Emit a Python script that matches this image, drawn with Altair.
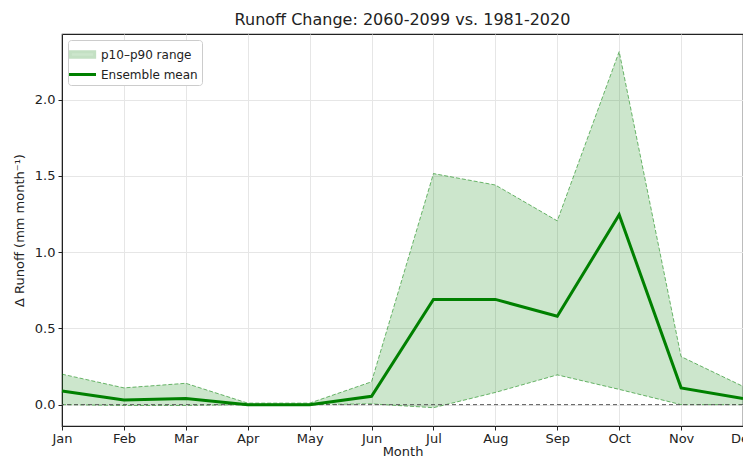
import altair as alt
import pandas as pd

months = ["Jan", "Feb", "Mar", "Apr", "May", "Jun", "Jul", "Aug", "Sep", "Oct", "Nov", "Dec"]
ens_mean = [0.09, 0.03, 0.04, 0.0, 0.0, 0.055, 0.69, 0.69, 0.58, 1.245, 0.11, 0.04]
p10 = [0.0, -0.005, -0.005, 0.0, 0.0, 0.005, -0.02, 0.08, 0.195, 0.10, 0.0, 0.0]
p90 = [0.20, 0.11, 0.14, 0.01, 0.01, 0.15, 1.515, 1.44, 1.205, 2.315, 0.315, 0.12]
series_names = ["p10–p90 range", "Ensemble mean"]

df = pd.DataFrame({
    "m": list(range(len(months))),
    "month": months,
    "mean": ens_mean,
    "p10": p10,
    "p90": p90,
})

GREEN = "#008000"
LIGHT = "#cce6cc"
FONT = "DejaVu Sans"
label_arr = "[" + ",".join("'%s'" % m for m in months) + "]"

x_enc = alt.X(
    "m:Q",
    scale=alt.Scale(domain=[0, 11], nice=False, zero=False),
    axis=alt.Axis(
        title="Month", values=list(range(12)), labelExpr=label_arr + "[datum.value]",
        grid=True, labelFlush=False, labelOverlap=False,
    ),
)
y_scale = alt.Scale(domain=[-0.14, 2.43], nice=False, zero=False)
y_axis = alt.Axis(title="Δ Runoff (mm month⁻¹)", values=[0, 0.5, 1.0, 1.5, 2.0], format=".1f", grid=True)

leg = alt.Legend(
    title=None, orient="top-left", offset=6, padding=4, rowPadding=0,
    labelFontSize=12, labelFont=FONT, labelColor="#222", labelOffset=8,
    symbolSize=324, symbolStrokeWidth=3, symbolOpacity=1,
    strokeColor="#cccccc", fillColor="white", cornerRadius=3,
)

base = alt.Chart(df)

band = base.mark_area(color=GREEN, fillOpacity=0.2, strokeWidth=0).encode(
    x=x_enc,
    y=alt.Y("p10:Q", scale=y_scale, axis=y_axis),
    y2="p90:Q",
)

edge_lo = base.mark_line(color=GREEN, strokeOpacity=0.55, strokeWidth=1, strokeDash=[4, 2]).encode(
    x="m:Q", y="p10:Q"
)
edge_hi = base.mark_line(color=GREEN, strokeOpacity=0.55, strokeWidth=1, strokeDash=[4, 2]).encode(
    x="m:Q", y="p90:Q"
)

zero = alt.Chart(pd.DataFrame({"z": [0.0]})).mark_rule(
    color="#555555", strokeWidth=1, strokeDash=[4, 3]
).encode(y="z:Q")

mean_line = base.mark_line(color=GREEN, strokeWidth=3).encode(x="m:Q", y="mean:Q")

legend_layer = base.transform_calculate(series="'" + series_names[0] + "'").transform_filter("false").mark_point(
    filled=True, size=324
).encode(
    x="m:Q",
    y="mean:Q",
    shape=alt.Shape("series:N", scale=alt.Scale(domain=series_names, range=["M-1.35,-0.3H1.35V0.3H-1.35Z", "M-1.5,0H1.5"]), legend=leg),
    fill=alt.Fill("series:N", scale=alt.Scale(domain=series_names, range=[LIGHT, GREEN]), legend=leg),
    stroke=alt.Stroke("series:N", scale=alt.Scale(domain=series_names, range=["#c3e0c3", GREEN]), legend=leg),
)

chart = alt.layer(band, edge_lo, edge_hi, zero, mean_line, legend_layer).properties(
    width=681,
    height=392,
    title=alt.TitleParams(
        "Runoff Change: 2060-2099 vs. 1981-2020",
        fontSize=16, font=FONT, fontWeight="normal", color="#222", anchor="middle", offset=6,
    ),
    autosize=alt.AutoSizeParams(type="none"),
    padding={"left": 54, "top": 26, "right": 0, "bottom": 34},
).configure_view(
    stroke="#222", strokeWidth=1.2
).configure_axis(
    labelFont=FONT, titleFont=FONT, labelFontSize=13, titleFontSize=13,
    labelColor="#222", titleColor="#222", titleFontWeight="normal",
    tickColor="#222", domainColor="#222", tickSize=4, labelPadding=3,
    gridColor="#e6e6e6", gridWidth=1,
).configure_axisY(
    titlePadding=8,
).configure_axisX(
    labelPadding=2, titlePadding=0,
)

chart.save("out.html", embed_options={"renderer": "svg", "actions": False})
